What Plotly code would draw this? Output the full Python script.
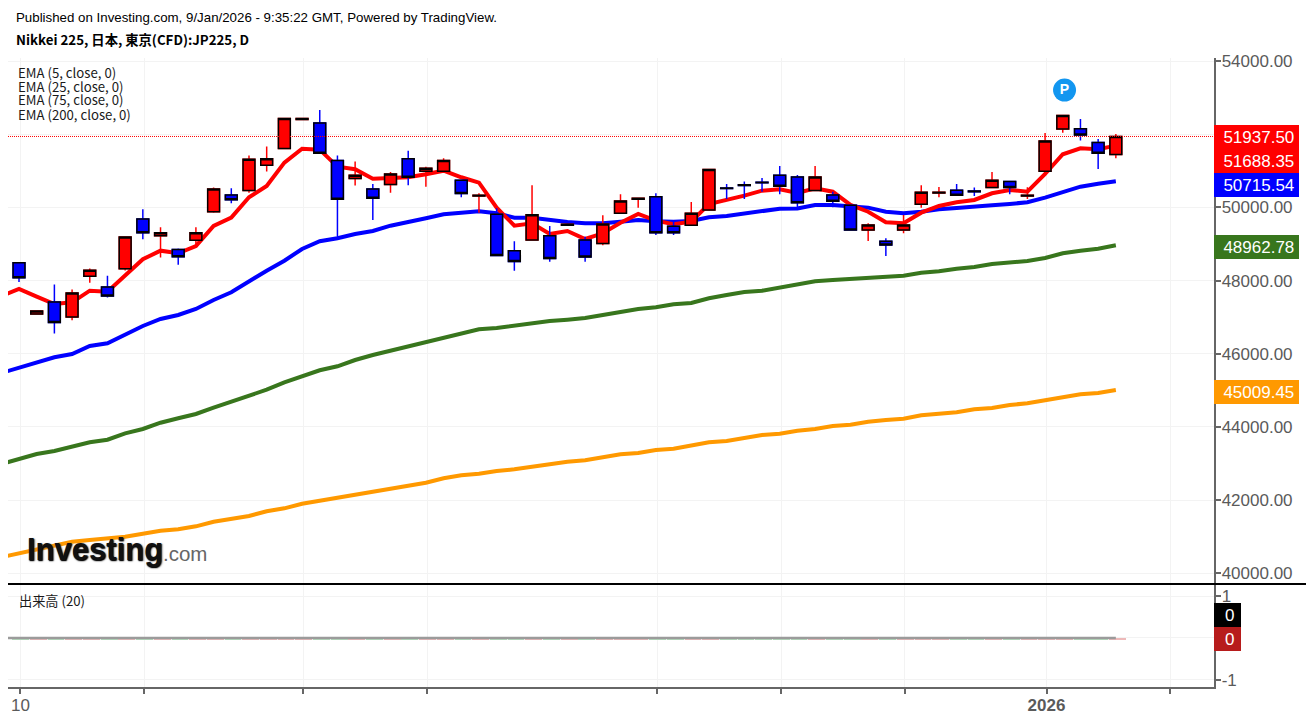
import plotly.graph_objects as go

# --- Candle data (JP225 daily) ---
opens = [48485,47088,47416,47005,48120,47827,48321,49682,49225,48852,49099,49882,50340,50458,51154,51609,52400,52304,51280,50787,50504,50622,51326,50989,50989,50743,50310,49811,48814,49107,49225,49510,49107,49016,49838,50220,50293,49482,49510,49929,50530,50615,50685,50880,50833,50458,50340,50058,49381,49071,49381,50085,50390,50469,50450,50540,50704,50310,50989,52140,52148,51773,51444]
highs = [48485,47170,47893,47756,48331,48129,49189,49948,49455,48879,49455,50540,50523,51417,51663,52431,52430,52661,51417,51252,50641,50970,51546,51107,51345,50743,50386,49975,49071,50606,49490,49540,49197,49784,50359,50260,50386,49655,50148,51033,50641,50704,50806,51134,50882,51134,50430,50058,49564,49153,49792,50606,50559,50641,50540,50970,50704,50551,52030,52513,52414,51866,52003]
lows = [47964,47088,46550,46915,47937,47537,48277,49126,48633,48430,48962,49855,50112,50403,50978,51609,52400,51482,49181,50595,49655,50403,50606,50567,50989,50277,49855,48688,48266,49107,48512,49510,48512,48962,49838,49992,49244,49244,49510,49929,50230,50230,50430,50359,50003,50458,50003,49362,49080,48669,49290,49992,50277,50332,50313,50540,50359,50230,50989,52039,51828,51052,51345]
closes = [48074,47170,46852,47663,48285,47581,49189,49307,49307,48649,49307,50504,50211,51318,51326,52431,52430,51482,50222,50880,50249,50915,50825,51071,51280,50376,50330,48688,48523,49800,48605,49540,48641,49545,50175,50250,49307,49307,49838,51033,50515,50600,50670,50578,50129,50833,50167,49381,49518,48970,49518,50414,50410,50332,50430,50743,50540,50330,51811,52513,51976,51482,51937.5]

# --- Moving averages; first value lies just left of the first candle ---
ema5 = [47579,47770,47559,47360,47406,47723,47696,48152,48582,48817,48746,48945,49492,49719,50276,50585,51222,51604,51577,51112,51041,50784,50812,50823,50905,51003,50823,50675,49992,49500,49565,49273,49355,49136,49292,49582,49820,49637,49538,49609,50093,50202,50320,50456,50495,50394,50522,50429,50066,49882,49593,49565,49855,50038,50139,50202,50385,50476,50429,50913,51451,51615,51588,51688.35]
ema25 = [45474,45624,45761,45903,45993,46212,46286,46532,46759,46950,47059,47223,47469,47680,47980,48270,48543,48863,49074,49156,49273,49355,49500,49593,49702,49811,49855,49893,49839,49719,49719,49647,49601,49565,49565,49609,49656,49620,49609,49628,49729,49765,49839,49893,49964,49970,50066,50066,50038,49992,49882,49839,49882,49948,49984,50011,50057,50093,50139,50265,50429,50566,50648,50715.54]
ema75 = [42987,43124,43260,43342,43460,43580,43651,43826,43944,44116,44236,44354,44526,44690,44854,45018,45220,45373,45548,45657,45829,45966,46084,46193,46330,46450,46575,46668,46704,46767,46849,46895,46931,46977,47059,47141,47223,47270,47352,47387,47516,47606,47688,47723,47805,47898,47980,48016,48051,48090,48125,48133,48215,48254,48325,48371,48453,48500,48535,48617,48746,48817,48871,48962.78]
ema200 = [40440,40546,40656,40746,40863,40910,40956,41000,41082,41164,41202,41284,41410,41492,41566,41694,41776,41902,41984,42066,42148,42230,42312,42394,42476,42596,42678,42722,42796,42842,42913,42960,43050,43088,43170,43252,43288,43370,43405,43487,43580,43616,43698,43780,43815,43897,43944,44026,44061,44143,44190,44225,44318,44354,44400,44482,44518,44600,44646,44728,44810,44892,44928,45009.45]

# --- Axis ticks ---
price_ticks = [40000,42000,44000,46000,48000,50000,52000,54000]
price_tick_text = ["40000.00","42000.00","44000.00","46000.00","48000.00","50000.00","","54000.00"]
date_tick_pos = [0.08,7.08,16.08,23.08,36.08,43.08,50.08,58.08,65.08]
date_tick_text = ["10","","","","","","","<b>2026</b>",""]
volume_ticks = [-1,0,1]
volume_tick_text = ["-1","","1"]
indicator_names = ["EMA (5, close, 0)","EMA (25, close, 0)","EMA (75, close, 0)","EMA (200, close, 0)"]

W, H = 1306, 720
RED, BLUE, GREEN, ORANGE = "#FF0000", "#0000FF", "#38761D", "#FF9900"
GRID, AXIS, LABEL = "#F3F3F3", "#666666", "#5A5A5A"

def fx(px): return px / W
def fy(py): return 1 - py / H

n = len(opens)
xs = list(range(n))
ema_x = list(range(-1, n))
body_top = [max(o, c) for o, c in zip(opens, closes)]
body_low = [min(o, c) for o, c in zip(opens, closes)]

fig = go.Figure()

# volume pane: bars first, then the moving average
vol_colors = ["#EDB9B9" if c > o else "#B6E0BE" for o, c in zip(opens, closes)]
fig.add_trace(go.Bar(x=xs, y=[-0.055] * n, marker=dict(color=vol_colors, line_width=0), width=0.95, offset=-0.38,
                     xaxis="x2", yaxis="y2", showlegend=False, hoverinfo="skip"))
fig.add_trace(go.Scatter(x=ema_x, y=[0] * (n + 1), mode="lines", line=dict(color="#9B9B9B", width=2.5),
                         xaxis="x2", yaxis="y2", showlegend=False, hoverinfo="skip"))

for vals, col in [(ema200, ORANGE), (ema75, GREEN), (ema25, BLUE), (ema5, RED)]:
    fig.add_trace(go.Scatter(x=ema_x, y=vals, mode="lines", line=dict(color=col, width=4),
                             xaxis="x", yaxis="y", showlegend=False, hoverinfo="skip"))

# candles sit on overlay axes so they are painted above the EMA lines
fig.add_trace(go.Candlestick(x=xs, open=opens, high=highs, low=lows, close=closes, whiskerwidth=0,
                             increasing=dict(line=dict(color=RED, width=1.5), fillcolor=RED),
                             decreasing=dict(line=dict(color=BLUE, width=1.5), fillcolor=BLUE),
                             xaxis="x3", yaxis="y3", showlegend=False, hoverinfo="skip"))
fig.add_trace(go.Candlestick(x=xs, open=opens, high=body_top, low=body_low, close=closes, whiskerwidth=0,
                             increasing=dict(line=dict(color="#000000", width=1.5), fillcolor=RED),
                             decreasing=dict(line=dict(color="#000000", width=1.5), fillcolor=BLUE),
                             xaxis="x3", yaxis="y3", showlegend=False, hoverinfo="skip"))
fig.add_trace(go.Scatter(x=[59.1], y=[53207], mode="markers+text", text=["<b>P</b>"], textposition="middle center",
                         textfont=dict(color="white", size=14, family="Liberation Sans"),
                         marker=dict(color="#1296F0", size=23), xaxis="x3", yaxis="y3",
                         showlegend=False, hoverinfo="skip"))

PX_RANGE = [-0.622, 67.52]
PRICE_RANGE = [39708, 54082]
xdom = [fx(8), fx(1213.5)]
ydom = [fy(584), fy(58)]
ydom2 = [fy(687), fy(585)]
axfont = dict(family="Liberation Sans", size=17, color=LABEL)

fig.update_layout(
    width=W, height=H, autosize=False, margin=dict(l=0, r=0, t=0, b=0, pad=0),
    paper_bgcolor="white", plot_bgcolor="white", barmode="overlay", bargap=0, boxgap=0.33, boxgroupgap=0,
    xaxis=dict(domain=xdom, range=PX_RANGE, anchor="y", tickmode="array", tickvals=date_tick_pos, automargin=False,
               showticklabels=False, ticks="", showgrid=True, gridcolor=GRID, gridwidth=1, zeroline=False,
               showline=False, rangeslider=dict(visible=False)),
    yaxis=dict(domain=ydom, range=PRICE_RANGE, anchor="x", side="right", tickmode="array", tickvals=price_ticks,
               ticktext=price_tick_text, tickfont=axfont, ticks="outside", ticklen=6, automargin=False,
               tickwidth=1.5, tickcolor=AXIS, ticklabelstandoff=-3, showgrid=True, gridcolor=GRID, zeroline=False,
               showline=True, linecolor=AXIS, linewidth=1.5),
    xaxis2=dict(domain=xdom, range=PX_RANGE, anchor="y2", tickmode="array", tickvals=date_tick_pos, automargin=False,
                ticktext=date_tick_text, tickfont=axfont, ticks="outside", ticklen=5, tickwidth=1.5, ticklabelstandoff=-3,
                tickcolor=AXIS, showgrid=True, gridcolor=GRID, zeroline=False, showline=True,
                linecolor=AXIS, linewidth=2),
    yaxis2=dict(domain=ydom2, range=[-1.167, 1.262], anchor="x2", side="right", tickmode="array", automargin=False,
                tickvals=volume_ticks, ticktext=volume_tick_text, tickfont=axfont, ticks="outside", ticklen=6,
                tickwidth=1.5, tickcolor=AXIS, ticklabelstandoff=-3, showgrid=True, gridcolor=GRID, zeroline=False,
                showline=True, linecolor=AXIS, linewidth=1.5),
    xaxis3=dict(domain=xdom, range=PX_RANGE, anchor="y3", overlaying="x", visible=False, automargin=False,
                rangeslider=dict(visible=False)),
    yaxis3=dict(domain=ydom, range=PRICE_RANGE, anchor="x3", overlaying="y", visible=False, automargin=False),
)

# last-price dotted line and pane separator
fig.add_shape(type="line", xref="x", yref="y", x0=PX_RANGE[0], x1=PX_RANGE[1], y0=closes[-1], y1=closes[-1],
              line=dict(color=RED, width=1, dash="1px,1px"))
fig.add_shape(type="line", xref="paper", yref="paper", x0=fx(8), x1=1, y0=fy(584), y1=fy(584),
              line=dict(color="#000000", width=2))

def text(px, py, s, size, family="Noto Sans CJK JP", color="#000000", bold=False, shadow=None):
    font = dict(family=family, size=size, color=color)
    if shadow:
        font["shadow"] = shadow
    fig.add_annotation(xref="paper", yref="paper", x=fx(px), y=fy(py), xanchor="left", yanchor="middle",
                       text="<b>%s</b>" % s if bold else s, showarrow=False, font=font, borderpad=0, borderwidth=0)

text(16, 17, "Published on Investing.com, 9/Jan/2026 - 9:35:22 GMT, Powered by TradingView.", 13.3, "Liberation Sans")
text(16, 39.5, "Nikkei 225, 日本, 東京(CFD):JP225, D", 13.3, bold=True)
for py, name in zip([73, 86.5, 100, 114], indicator_names):
    text(18, py, name, 13.2, color="#1A1A1A")
text(19, 600, "出来高 (20)", 13.2, color="#1A1A1A")
text(27, 549, "Investing", 31, "Liberation Sans", "#111111", bold=True, shadow="0.6px 0.6px 1px #000, 1px 1px 2px #666")
text(163, 553, ".com", 20.5, "Liberation Sans", "#666666")

def badge(left, right, top, bottom, s, color, tick_py):
    fig.add_annotation(xref="paper", yref="paper", x=fx(left), y=fy((top + bottom) / 2), xanchor="left",
                       yanchor="middle", width=right - left, height=bottom - top, align="center",
                       text=s, showarrow=False, bgcolor=color, borderpad=0, borderwidth=0,
                       font=dict(family="Liberation Sans", size=17, color="white"))
    fig.add_shape(type="line", xref="paper", yref="paper", x0=fx(left + 1), x1=fx(left + 6), y0=fy(tick_py), y1=fy(tick_py),
                  line=dict(color="white", width=1.3), layer="above")

last_values = [(125, 149, closes[-1], RED, 136.5), (149, 173.5, ema5[-1], RED, 145.6),
               (173.5, 197.5, ema25[-1], BLUE, 181.2), (235, 259, ema75[-1], GREEN, 246.4),
               (380, 404, ema200[-1], ORANGE, 390)]
for top, bottom, val, col, tick in last_values:
    badge(1214, 1299, top, bottom, "&nbsp;%.2f" % val, col, tick)
badge(1214, 1240.5, 603, 627, "&nbsp;0", "#000000", 614)
badge(1214, 1240.5, 627, 651, "&nbsp;0", "#B71C1C", 638.3)

fig.write_html("out.html", config=dict(displayModeBar=False),
               post_script="document.body.style.margin='0';document.body.style.overflow='hidden';")
